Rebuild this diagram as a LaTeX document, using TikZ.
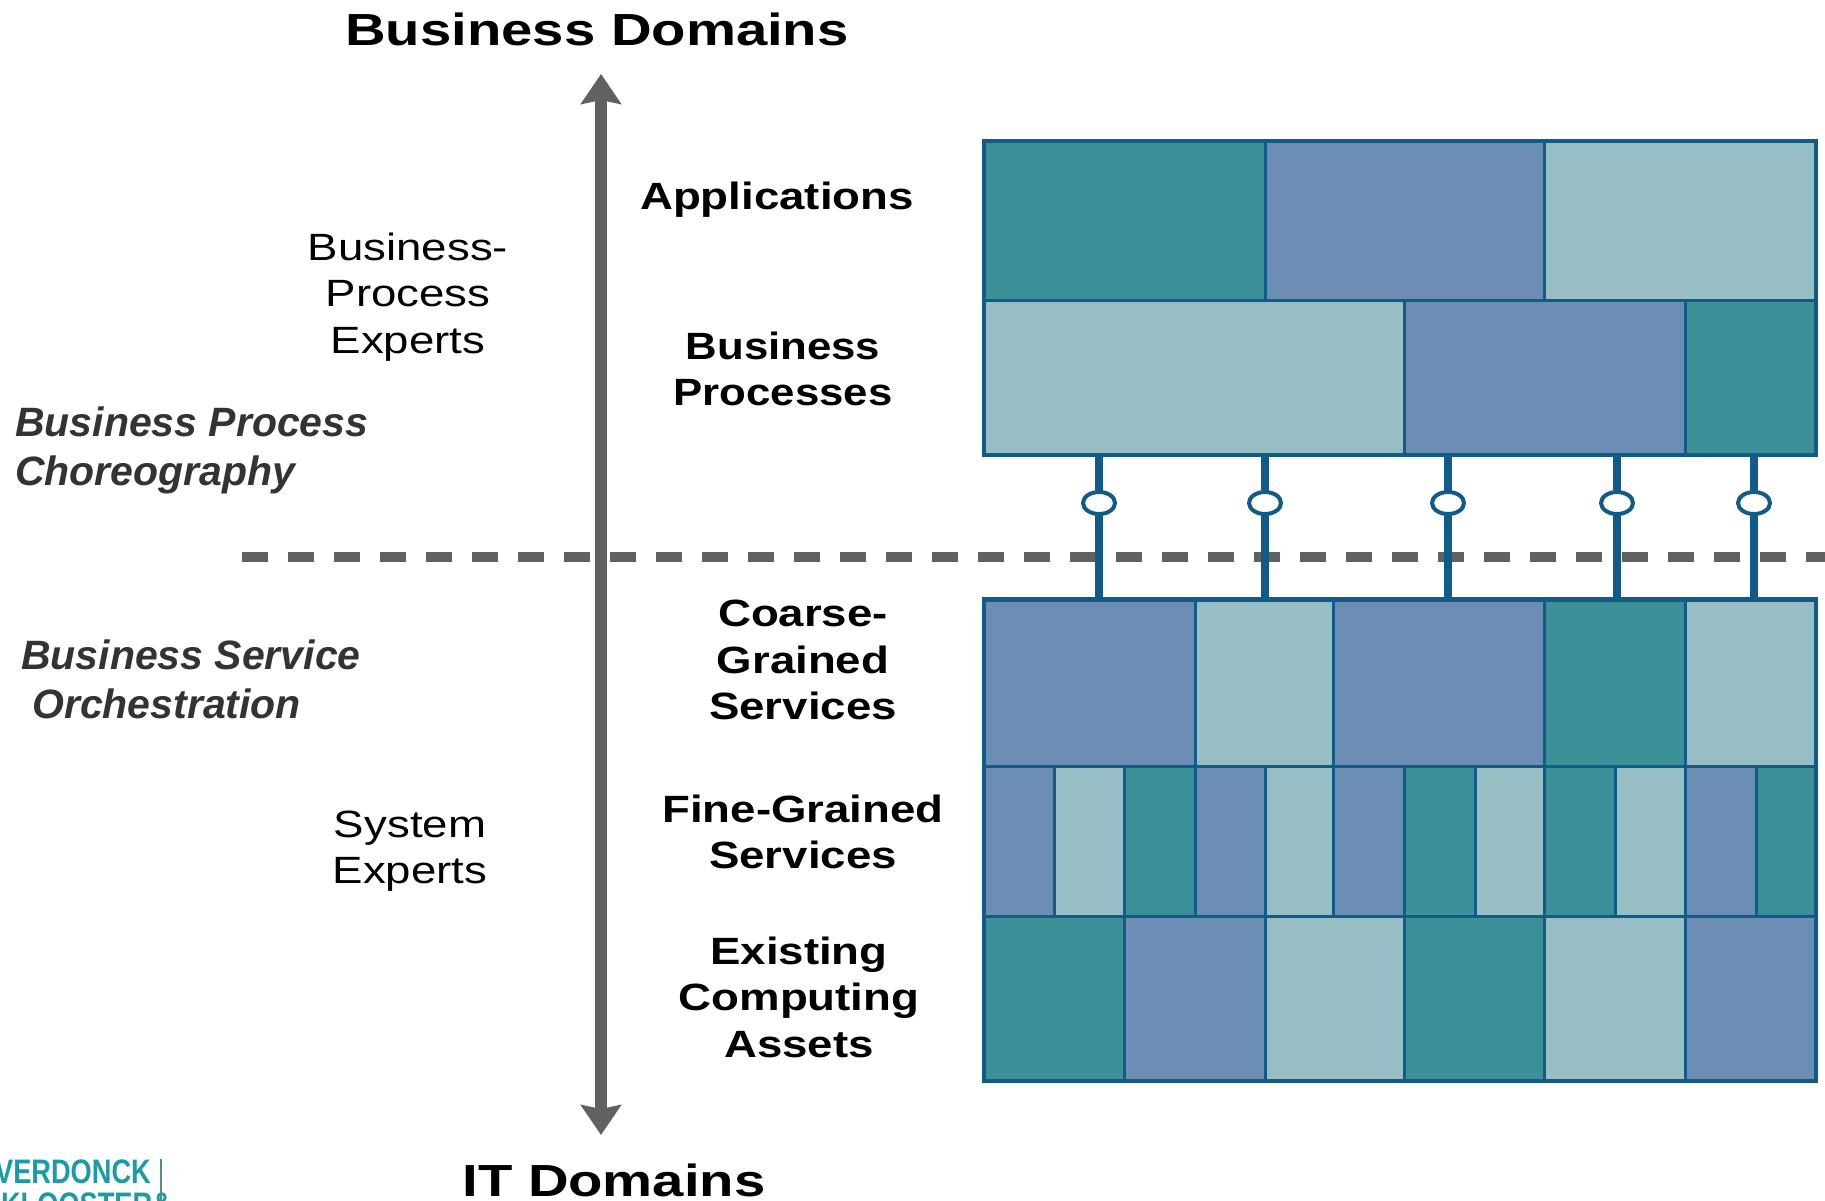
\documentclass[tikz,border=0pt]{standalone}
\usepackage{fontspec}
\setmainfont{Liberation Sans}
\usetikzlibrary{arrows.meta,positioning,fit,shapes.geometric}
\definecolor{myteal}{HTML}{3C9098}
\definecolor{myblue}{HTML}{6C8DB4}
\definecolor{mylight}{HTML}{96BEC4}
\definecolor{myborder}{HTML}{115B88}
\definecolor{mygray}{HTML}{616161}
\definecolor{mydark}{HTML}{333333}
\definecolor{mylogo}{HTML}{1A9BA5}
\tikzset{
	cell/.style={
		rectangle, draw=myborder, line width=3pt,
		anchor=north west, inner sep=0, outer sep=0,
	},
	frame/.style={
		rectangle, draw=myborder, line width=4.5pt, inner sep=0, outer sep=0,
	},
	hub/.style={
		ellipse, draw=myborder, line width=4pt, fill=white,
		minimum width=32pt, minimum height=22pt, inner sep=0,
	},
	link/.style={
		draw=myborder, line width=8pt,
	},
	axis/.style={
		draw=mygray, line width=12pt,
		{Stealth[length=30pt,width=40pt,inset=4pt]}-{Stealth[length=30pt,width=40pt,inset=4pt]},
	},
	title/.style={
		font=\fontsize{45}{45}\selectfont\bfseries, xscale=1.25, transform shape, inner sep=0,
	},
	layer/.style={
		font=\fontsize{38}{46.5}\selectfont\bfseries, xscale=1.2, transform shape, align=center,
	},
	expert/.style={
		font=\fontsize{38}{46.5}\selectfont, xscale=1.2, transform shape, align=center,
	},
	topic/.style={
		font=\fontsize{41}{49}\selectfont\bfseries\itshape, text=mydark, align=left, anchor=west,
		inner sep=0,
	},
}
\begin{document}
\begin{tikzpicture}[x=1pt, y=-1pt]
	\useasboundingbox (0,0) rectangle (1825,1200);
	\clip (0,0) rectangle (1825,1200);
	% Titles and axis
	\node [title] (business) at (597,29) {Business Domains};
	\node [title] (it) at (614,1180) {IT Domains};
	\coordinate (axistop) at (601,74);
	\coordinate (axisbottom) at (601,1135);
	\draw[axis] (axistop) -- (axisbottom);
	% Separator
	\coordinate (sepleft) at (242,557);
	\coordinate (sepright) at (1825,557);
	\draw[draw=mygray, line width=10pt, dash pattern=on 26pt off 20pt] (sepleft) -- (sepright);
	% Left column
	\node [topic] (choreo) at (15,450) {Business Process\\Choreography};
	\node [topic] (orch) at (21,679) {Business Service\\\hspace*{11pt}Orchestration};
	\node [expert] (bpexperts) at (408,297) {Business-\\Process\\Experts};
	\node [expert] (sysexperts) at (410,851) {System\\Experts};
	% Layer names
	\node [layer] (apps) at (777,200) {Applications};
	\node [layer, xscale=0.96] (procs) at (783,369) {Business\\Processes};
	\node [layer] (coarse) at (803,660) {Coarse-\\Grained\\Services};
	\node [layer] (fine) at (803,832) {Fine-Grained\\Services};
	\node [layer] (assets) at (799,997) {Existing\\Computing\\Assets};
	% Applications row
	\node [cell, fill=myteal, minimum width=281pt, minimum height=159pt] (app1) at (984,141) {};
	\node [cell, fill=myblue, minimum width=279.5pt, minimum height=159pt] (app2) at (app1.north east) {};
	\node [cell, fill=mylight, minimum width=271.5pt, minimum height=159pt] (app3) at (app2.north east) {};
	% Business processes row
	\node [cell, fill=mylight, minimum width=420pt, minimum height=155pt] (proc1) at (app1.south west) {};
	\node [cell, fill=myblue, minimum width=281pt, minimum height=155pt] (proc2) at (proc1.north east) {};
	\node [cell, fill=myteal, minimum width=131pt, minimum height=155pt] (proc3) at (proc2.north east) {};
	% Coarse-grained row
	\node [cell, fill=myblue, minimum width=211pt, minimum height=166.5pt] (coarse1) at (984,599.5) {};
	\node [cell, fill=mylight, minimum width=138pt, minimum height=166.5pt] (coarse2) at (coarse1.north east) {};
	\node [cell, fill=myblue, minimum width=211.5pt, minimum height=166.5pt] (coarse3) at (coarse2.north east) {};
	\node [cell, fill=myteal, minimum width=140.5pt, minimum height=166.5pt] (coarse4) at (coarse3.north east) {};
	\node [cell, fill=mylight, minimum width=131pt, minimum height=166.5pt] (coarse5) at (coarse4.north east) {};
	% Fine-grained row
	\node [cell, fill=myblue, minimum width=70.5pt, minimum height=150pt] (fine1) at (coarse1.south west) {};
	\node [cell, fill=mylight, minimum width=69.5pt, minimum height=150pt] (fine2) at (fine1.north east) {};
	\node [cell, fill=myteal, minimum width=71pt, minimum height=150pt] (fine3) at (fine2.north east) {};
	\node [cell, fill=myblue, minimum width=70pt, minimum height=150pt] (fine4) at (fine3.north east) {};
	\node [cell, fill=mylight, minimum width=68pt, minimum height=150pt] (fine5) at (fine4.north east) {};
	\node [cell, fill=myblue, minimum width=71pt, minimum height=150pt] (fine6) at (fine5.north east) {};
	\node [cell, fill=myteal, minimum width=71pt, minimum height=150pt] (fine7) at (fine6.north east) {};
	\node [cell, fill=mylight, minimum width=69.5pt, minimum height=150pt] (fine8) at (fine7.north east) {};
	\node [cell, fill=myteal, minimum width=71pt, minimum height=150pt] (fine9) at (fine8.north east) {};
	\node [cell, fill=mylight, minimum width=69.5pt, minimum height=150pt] (fine10) at (fine9.north east) {};
	\node [cell, fill=myblue, minimum width=71pt, minimum height=150pt] (fine11) at (fine10.north east) {};
	\node [cell, fill=myteal, minimum width=60pt, minimum height=150pt] (fine12) at (fine11.north east) {};
	% Computing assets row
	\node [cell, fill=myteal, minimum width=140pt, minimum height=165pt] (asset1) at (fine1.south west) {};
	\node [cell, fill=myblue, minimum width=141pt, minimum height=165pt] (asset2) at (asset1.north east) {};
	\node [cell, fill=mylight, minimum width=139pt, minimum height=165pt] (asset3) at (asset2.north east) {};
	\node [cell, fill=myteal, minimum width=140.5pt, minimum height=165pt] (asset4) at (asset3.north east) {};
	\node [cell, fill=mylight, minimum width=140.5pt, minimum height=165pt] (asset5) at (asset4.north east) {};
	\node [cell, fill=myblue, minimum width=131pt, minimum height=165pt] (asset6) at (asset5.north east) {};
	% Outer frames
	\node [frame, fit=(app1)(proc3)] (upper) {};
	\node [frame, fit=(coarse1)(asset6)] (lower) {};
	% Connectors
	\node [hub] (hub1) at (1099,503) {};
	\node [hub] (hub2) at (1265,503) {};
	\node [hub] (hub3) at (1448,503) {};
	\node [hub] (hub4) at (1617,503) {};
	\node [hub] (hub5) at (1754,503) {};
	\draw[link] (upper.south -| hub1) -- (hub1);
	\draw[link] (hub1) -- (lower.north -| hub1);
	\draw[link] (upper.south -| hub2) -- (hub2);
	\draw[link] (hub2) -- (lower.north -| hub2);
	\draw[link] (upper.south -| hub3) -- (hub3);
	\draw[link] (hub3) -- (lower.north -| hub3);
	\draw[link] (upper.south -| hub4) -- (hub4);
	\draw[link] (hub4) -- (lower.north -| hub4);
	\draw[link] (upper.south -| hub5) -- (hub5);
	\draw[link] (hub5) -- (lower.north -| hub5);
	% Logo, cut off by the page
	\node [anchor=east, text=mylogo, font=\fontsize{34}{34}\selectfont\bfseries, xscale=0.8, transform shape, inner sep=0] (logotop) at (151,1172) {VERDONCK};
	\node [anchor=north east, text=mylogo, font=\fontsize{34}{34}\selectfont\bfseries, xscale=0.8, transform shape, inner sep=0] (logobottom) at (172,1193) {KLOOSTER\&};
	\coordinate (logobar) at (161,1159);
	\draw[mylogo!50!gray, line width=1.5pt] (logobar) -- (logobar |- logobottom.south);
\end{tikzpicture}
\end{document}
